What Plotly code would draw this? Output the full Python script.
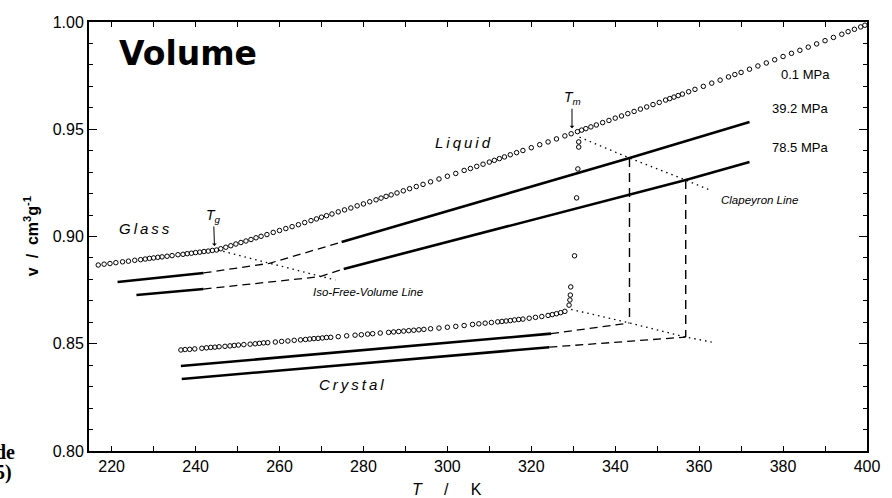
import plotly.graph_objects as go

# ---- 0.1 MPa measurements (open circles) ----
# glass + liquid branch
T_amorph_01 = [216.8, 218.2, 219.6, 221.0, 222.6, 224.0, 225.5, 226.9, 228.0, 229.0,
               230.0, 231.0, 232.0, 233.2, 234.4, 235.8, 237.0, 238.0, 239.0, 240.0,
               241.0, 242.0, 243.0, 244.0, 245.0,
               246.0, 247.2, 248.4, 249.6, 250.8, 252.0, 253.2, 254.4, 255.6, 257.0,
               258.5, 260.0, 261.5, 263.0, 264.5, 266.0, 267.5, 268.8, 270.0, 271.2,
               272.5, 274.0, 275.5, 277.0, 278.5, 280.0, 281.5, 283.0, 284.2, 285.4,
               286.6, 288.0, 289.5, 291.0, 292.6, 294.2, 296.0, 298.0, 300.0, 302.0,
               304.0, 305.5, 307.0, 308.5, 310.0, 311.2, 312.4, 313.6, 315.0, 316.5,
               318.0, 320.0, 322.0, 324.0, 326.0, 328.0, 329.5, 331.0, 332.0, 333.0,
               334.2, 335.5, 337.0, 338.5, 340.0, 341.5, 343.0, 344.5, 346.0, 347.5,
               349.0, 350.5, 352.0, 353.0, 354.0, 355.0, 356.0, 357.5, 359.0, 361.0,
               363.0, 365.0, 367.0, 368.5, 370.0, 372.0, 374.0, 376.0, 378.0, 380.0,
               382.0, 384.0, 386.0, 388.0, 390.0, 392.0, 394.0, 395.5, 397.0, 398.5,
               399.5]
v_amorph_01 = [0.8867, 0.8871, 0.8874, 0.8878, 0.8882, 0.8885, 0.8889, 0.8892, 0.8895, 0.8898,
               0.8900, 0.8903, 0.8905, 0.8908, 0.8911, 0.8915, 0.8917, 0.8920, 0.8922, 0.8925,
               0.8927, 0.8930, 0.8932, 0.8935, 0.8937,
               0.8943, 0.8950, 0.8957, 0.8965, 0.8972, 0.8979, 0.8986, 0.8994, 0.9001, 0.9009,
               0.9019, 0.9028, 0.9037, 0.9046, 0.9055, 0.9065, 0.9074, 0.9082, 0.9090, 0.9097,
               0.9105, 0.9115, 0.9124, 0.9133, 0.9143, 0.9152, 0.9162, 0.9171, 0.9179, 0.9187,
               0.9194, 0.9203, 0.9213, 0.9223, 0.9233, 0.9243, 0.9255, 0.9268, 0.9281, 0.9294,
               0.9308, 0.9317, 0.9327, 0.9337, 0.9347, 0.9355, 0.9363, 0.9371, 0.9381, 0.9391,
               0.9401, 0.9414, 0.9428, 0.9441, 0.9455, 0.9469, 0.9479, 0.9489, 0.9496, 0.9503,
               0.9511, 0.9520, 0.9531, 0.9541, 0.9552, 0.9562, 0.9573, 0.9583, 0.9594, 0.9604,
               0.9615, 0.9625, 0.9636, 0.9643, 0.9650, 0.9657, 0.9664, 0.9675, 0.9686, 0.9700,
               0.9715, 0.9729, 0.9744, 0.9755, 0.9765, 0.9780, 0.9795, 0.9809, 0.9824, 0.9839,
               0.9854, 0.9868, 0.9883, 0.9898, 0.9913, 0.9928, 0.9943, 0.9955, 0.9966, 0.9977,
               0.9985]

# melting step at Tm
T_melting_01 = [331.3, 331.3, 331.1, 330.8, 330.3, 329.4, 329.3, 329.2, 329.0]
v_melting_01 = [0.9441, 0.9417, 0.9315, 0.9180, 0.8910, 0.8765, 0.8727, 0.8704, 0.8680]

# crystal branch
T_crystal_01 = [236.5, 237.5, 238.6, 239.8, 241.5, 242.6, 243.6, 244.6, 245.6, 247.0,
                248.2, 249.2, 250.2, 251.5, 253.0, 254.2, 255.2, 256.2, 257.2, 259.0,
                260.5, 262.0, 263.5, 265.0, 266.2, 267.2, 268.2, 269.2, 270.2, 271.2,
                272.2, 274.0, 276.0, 278.0, 279.5, 281.0, 282.2, 284.0, 286.0, 287.2,
                288.4, 289.6, 290.8, 292.0, 293.2, 294.4, 296.0, 298.0, 300.0, 302.0,
                304.0, 306.0, 307.5, 309.0, 310.5, 312.0, 313.0, 314.0, 315.0, 316.0,
                317.0, 318.0, 319.5, 321.0, 322.5, 324.0, 325.0, 326.0, 327.0, 328.0]
v_crystal_01 = [0.8471, 0.8473, 0.8474, 0.8476, 0.8479, 0.8481, 0.8483, 0.8484, 0.8486, 0.8488,
                0.8490, 0.8492, 0.8494, 0.8496, 0.8498, 0.8500, 0.8502, 0.8504, 0.8505, 0.8508,
                0.8511, 0.8513, 0.8516, 0.8518, 0.8520, 0.8522, 0.8524, 0.8525, 0.8527, 0.8529,
                0.8530, 0.8533, 0.8537, 0.8540, 0.8542, 0.8545, 0.8547, 0.8550, 0.8553, 0.8555,
                0.8557, 0.8559, 0.8561, 0.8563, 0.8565, 0.8567, 0.8570, 0.8573, 0.8577, 0.8581,
                0.8585, 0.8590, 0.8593, 0.8596, 0.8599, 0.8602, 0.8604, 0.8606, 0.8608, 0.8611,
                0.8613, 0.8615, 0.8619, 0.8623, 0.8627, 0.8632, 0.8636, 0.8640, 0.8645, 0.8651]

# ---- 39.2 MPa ----
T_glass_392 = [221.4, 241.9]
v_glass_392 = [0.8788, 0.8830]
T_glass_392_ext = [241.9, 257.6, 274.8]
v_glass_392_ext = [0.8830, 0.8875, 0.8974]
T_liquid_392 = [274.8, 343.4, 372.0]
v_liquid_392 = [0.8974, 0.9366, 0.9534]
T_crystal_392 = [236.5, 294.8, 324.7]
v_crystal_392 = [0.8396, 0.8494, 0.8547]
T_crystal_392_ext = [324.7, 343.4]
v_crystal_392_ext = [0.8547, 0.8597]

# ---- 78.5 MPa ----
T_glass_785 = [225.9, 241.9]
v_glass_785 = [0.8727, 0.8755]
T_glass_785_ext = [241.9, 269.7, 275.3]
v_glass_785_ext = [0.8755, 0.8813, 0.8849]
T_liquid_785 = [275.3, 343.4, 356.8, 372.0]
v_liquid_785 = [0.8849, 0.9193, 0.9263, 0.9347]
T_crystal_785 = [236.7, 294.8, 324.3]
v_crystal_785 = [0.8336, 0.8434, 0.8484]
T_crystal_785_ext = [324.3, 356.8]
v_crystal_785_ext = [0.8484, 0.8531]

# ---- construction lines ----
T_iso_free_volume = [245.3, 257.6, 269.7, 273.3]
v_iso_free_volume = [0.8937, 0.8875, 0.8813, 0.8797]
T_clapeyron_liquid = [331.5, 343.4, 356.8, 362.6]
v_clapeyron_liquid = [0.9463, 0.9366, 0.9263, 0.9216]
T_clapeyron_crystal = [329.5, 343.4, 356.8, 363.0]
v_clapeyron_crystal = [0.8660, 0.8597, 0.8531, 0.8508]
T_melt_tie = [343.4, 356.8]
v_melt_tie_liquid = [0.9366, 0.9263]
v_melt_tie_crystal = [0.8597, 0.8531]

x_ticks = [220, 240, 260, 280, 300, 320, 340, 360, 380, 400]

INK = "black"
fig = go.Figure()


def circles(T, v):
    fig.add_trace(go.Scatter(x=T, y=v, mode="markers",
                             marker=dict(symbol="circle-open", size=4.5, color=INK,
                                         line=dict(width=1, color=INK))))


def curve(T, v, width=2.6, dash="solid"):
    fig.add_trace(go.Scatter(x=T, y=v, mode="lines",
                             line=dict(color=INK, width=width, dash=dash)))


circles(T_amorph_01, v_amorph_01)
circles(T_melting_01, v_melting_01)
circles(T_crystal_01, v_crystal_01)

DASH = "8px,5px"
DOT = "1.5px,4px"
for Ts, vs, Te, ve in [(T_glass_392, v_glass_392, T_glass_392_ext, v_glass_392_ext),
                       (T_glass_785, v_glass_785, T_glass_785_ext, v_glass_785_ext),
                       (T_crystal_392, v_crystal_392, T_crystal_392_ext, v_crystal_392_ext),
                       (T_crystal_785, v_crystal_785, T_crystal_785_ext, v_crystal_785_ext)]:
    curve(Ts, vs, width=2.6)
    curve(Te, ve, width=1.3, dash=DASH)

curve(T_liquid_392, v_liquid_392, width=2.6)
curve(T_liquid_785, v_liquid_785, width=2.6)

curve(T_iso_free_volume, v_iso_free_volume, width=1.3, dash=DOT)
curve(T_clapeyron_liquid, v_clapeyron_liquid, width=1.3, dash=DOT)
curve(T_clapeyron_crystal, v_clapeyron_crystal, width=1.3, dash=DOT)
for T, top, bottom in zip(T_melt_tie, v_melt_tie_liquid, v_melt_tie_crystal):
    curve([T, T], [top, bottom], width=1.4, dash="9px,6px")

LBL = "Liberation Sans"
TS = "\u2009"


def label(T, v, text, size=14, italic=True, family=LBL):
    fig.add_annotation(x=T, y=v, text=f"<i>{text}</i>" if italic else text,
                       showarrow=False, font=dict(family=family, size=size, color=INK))


fig.add_annotation(x=238.1, y=0.9851, text="<b>Volume</b>", showarrow=False,
                   font=dict(family="DejaVu Sans", size=33, color=INK))
label(227.8, 0.9035, TS.join("Glass"), size=15)
label(303.8, 0.9436, TS.join("Liquid"), size=15)
label(277.2, 0.8308, TS.join("Crystal"), size=15)
label(281.0, 0.8741, "Iso-Free-Volume Line", size=11.5)
label(374.4, 0.9170, "Clapeyron Line", size=11.5)
label(385.4, 0.9753, "0.1 MPa", size=13, italic=False)
label(384.0, 0.9599, "39.2 MPa", size=13, italic=False)
label(384.0, 0.9413, "78.5 MPa", size=13, italic=False)

# Tg and Tm markers
fig.add_annotation(x=244.5, y=0.8956, text="<i>T</i><sub><i>g</i></sub>", showarrow=True,
                   ax=-1, ay=-30, arrowhead=1, arrowsize=0.8, arrowwidth=1, arrowcolor=INK,
                   standoff=0, font=dict(family=LBL, size=14, color=INK))
fig.add_annotation(x=329.7, y=0.9505, text="<i>T</i><sub><i>m</i></sub>", showarrow=True,
                   ax=0, ay=-30, arrowhead=1, arrowsize=0.8, arrowwidth=1, arrowcolor=INK,
                   standoff=0, font=dict(family=LBL, size=14, color=INK))

# axis titles
fig.add_annotation(xref="paper", yref="paper", x=0.46, y=-0.089, yanchor="middle",
                   text="<i>T</i>     /     K", showarrow=False,
                   font=dict(family=LBL, size=16, color=INK))
fig.add_annotation(xref="paper", yref="paper", x=-0.075, y=0.5, xanchor="center",
                   textangle=-90,
                   text="<b>v  /  cm<sup>3</sup>g<sup>-1</sup></b>", showarrow=False,
                   font=dict(family=LBL, size=16, color=INK))

# running text at the page edge
fig.add_annotation(xref="paper", yref="paper", x=-0.092, y=-0.002, xanchor="right",
                   yanchor="middle", text="<b>de</b>", showarrow=False,
                   font=dict(family="Liberation Serif", size=20, color=INK))
fig.add_annotation(xref="paper", yref="paper", x=-0.097, y=-0.051, xanchor="right",
                   yanchor="middle", text="<b>5)</b>", showarrow=False,
                   font=dict(family="Liberation Serif", size=20, color=INK))

axis_common = dict(showline=True, linecolor=INK, linewidth=2, mirror="allticks",
                   ticks="inside", tickcolor=INK, tickwidth=1.2, showgrid=False,
                   zeroline=False, tickfont=dict(family=LBL, size=16, color=INK))

fig.update_xaxes(range=[214.6, 400], tickvals=x_ticks, ticklen=4,
                 minor=dict(dtick=10, tick0=210, ticks="inside", ticklen=5,
                            tickcolor=INK, showgrid=False),
                 **axis_common)
fig.update_yaxes(range=[0.80, 1.00], dtick=0.05, tickformat=".2f", ticklen=8,
                 minor=dict(dtick=0.01, ticks="inside", ticklen=4, tickcolor=INK,
                            showgrid=False),
                 **axis_common)

fig.update_layout(width=892, height=498, showlegend=False,
                  margin=dict(l=89, r=15, t=22, b=47),
                  paper_bgcolor="white", plot_bgcolor="white")

fig.write_html("out.html")
